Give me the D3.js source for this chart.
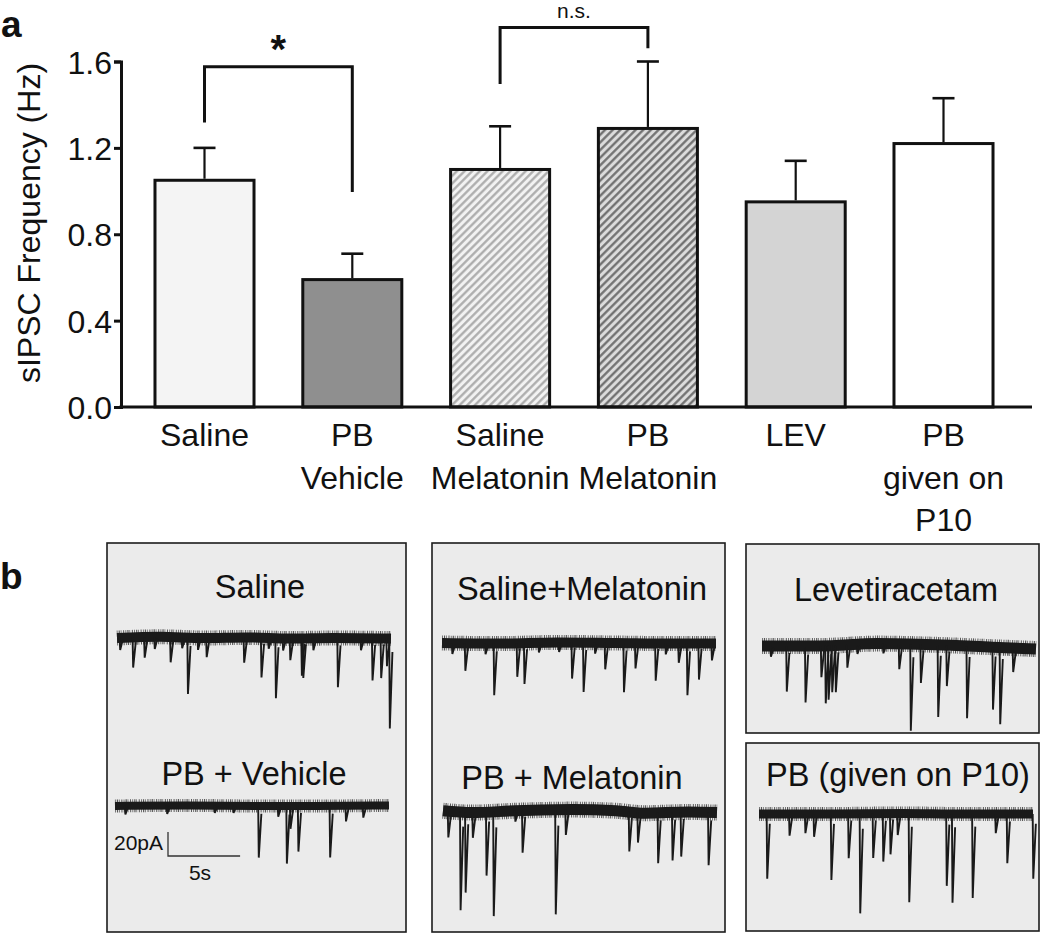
<!DOCTYPE html>
<html><head><meta charset="utf-8">
<script src="https://cdn.jsdelivr.net/npm/d3@7"></script>
<style>
body{margin:0;background:#fff}
svg{display:block}
text{font-family:"Liberation Sans",Arial,Helvetica,sans-serif;fill:#111}
</style>
</head><body>
<svg id="fig" width="1050" height="935"></svg>
<script>
// ---------------- data: panel a ----------------
const categories = ["Saline", "PB\nVehicle", "Saline\nMelatonin", "PB\nMelatonin", "LEV", "PB\ngiven on\nP10"];
const meanFreq = [1.05, 0.59, 1.10, 1.29, 0.95, 1.22];
const semFreq = [0.15, 0.12, 0.20, 0.31, 0.19, 0.21];
const yTicks = [0, 0.4, 0.8, 1.2, 1.6];
const yLabel = "sIPSC Frequency (Hz)";
const comparisons = [
  {a: 0, b: 1, label: "*", top: 1.576, legA: 1.317, legB: 0.996},
  {a: 2, b: 3, label: "n.s.", top: 1.757, legA: 1.496, legB: 1.661}
];

// ---------------- data: panel b (time s, amplitude pA) ----------------
const traceTitles = ["Saline", "PB + Vehicle", "Saline+Melatonin", "PB + Melatonin", "Levetiracetam", "PB (given on P10)"];
const salineEvents = [[0.2,10],[1.1,25],[1.9,17],[2.6,10],[3.7,21],[4.5,9],[4.9,47],[5.6,10],[6.2,16],[8.8,21],[10.0,33],[10.5,9],[11.0,50],[11.5,10],[12.0,18],[12.8,31],[12.9,33],[13.6,10],[15.3,41],[16.9,10],[17.7,35],[18.3,33],[18.7,23],[18.9,75]];
const pbVehicleEvents = [[0.7,7],[3.6,7],[6.9,6],[8.2,6],[9.95,43],[11.3,9],[11.9,48],[12.15,19],[12.7,38],[14.9,43],[16.0,13],[17.2,10]];
const salineMelEvents = [[0.7,9],[1.6,23],[3.0,9],[3.6,43],[5.2,28],[5.7,34],[6.7,8],[8.1,8],[9.0,30],[9.8,41],[10.6,9],[11.3,22],[12.6,41],[13.4,21],[14.8,31],[15.5,9],[16.4,16],[17.0,43],[17.8,30],[18.7,14]];
const pbMelEvents = [[0.35,22],[1.2,82],[1.55,67],[2.05,21],[3.0,53],[3.5,87],[5.0,9],[5.5,35],[7.8,87],[8.5,21],[12.9,33],[13.5,25],[14.9,42],[15.9,40],[16.5,37],[18.4,44]];
const levEvents = [[0.6,9],[1.7,38],[3.0,47],[4.1,26],[4.4,48],[4.6,45],[4.85,39],[5.1,39],[5.9,19],[6.6,8],[8.4,8],[9.5,21],[10.3,72],[11.0,32],[12.2,60],[12.8,34],[14.2,60],[16.0,52],[16.5,64],[17.4,20]];
const p10Events = [[0.55,54],[2.1,18],[3.2,16],[3.8,19],[5.0,55],[6.2,37],[7.0,83],[7.9,37],[8.6,40],[9.1,34],[9.6,18],[10.4,74],[13.0,60],[13.4,74],[14.8,70],[16.4,16],[17.2,41],[19.0,54]];
// slow baseline drift (pA, positive = downward)
const salineDrift = [[0,0],[3,-1],[6,0],[9,-0.5],[12,0.5],[15,0],[19,0.5]];
const pbVehicleDrift = [[0,0],[5,-0.5],[10,0],[14,0],[19,-0.5]];
const salineMelDrift = [[0,0],[4,0.5],[8,-0.5],[12,0],[16,0.5],[19,0.5]];
const pbMelDrift = [[0,-1],[2,0.5],[5,-1],[9,-2],[12,-1],[14,1],[17,0],[19,0.5]];
const levDrift = [[0,0],[4,0],[8,-2],[12,-1],[16,1],[19,2.5]];
const p10Drift = [[0,0],[5,0],[10,-0.5],[14,0],[19,0]];
const scaleBarTime = 5, scaleBarAmp = 20;

// ---------------- drawing ----------------
const svg = d3.select("#fig");
const font = '"Liberation Sans",Arial,Helvetica,sans-serif';

// panel labels
svg.append("text").attr("x", 1).attr("y", 37).attr("font-size", 37).attr("font-weight", "bold").text("a");
svg.append("text").attr("x", 0).attr("y", 589).attr("font-size", 37).attr("font-weight", "bold").text("b");

// scales
const y = d3.scaleLinear().domain([0, 1.6]).range([407, 61.5]);
const step = 147.8;
const x = d3.scaleBand().domain(categories)
  .range([204.5 - step / 2, 204.5 + 5.5 * step])
  .paddingInner(0.33).paddingOuter(0.165);
const axisX = 121;

// patterns
const defs = svg.append("defs");
function hatch(id, bg, fg) {
  const p = defs.append("pattern").attr("id", id).attr("patternUnits", "userSpaceOnUse")
    .attr("width", 5.4).attr("height", 5.4).attr("patternTransform", "rotate(45)");
  p.append("rect").attr("width", 5.4).attr("height", 5.4).attr("fill", bg);
  p.append("line").attr("x1", 1.3).attr("x2", 1.3).attr("y1", 0).attr("y2", 5.4)
    .attr("stroke", fg).attr("stroke-width", 2.2);
}
hatch("hatchLight", "#f2f2f2", "#a9a9a9");
hatch("hatchDark", "#dcdcdc", "#6b6b6b");
const barFill = ["#f4f4f4", "#8f8f8f", "url(#hatchLight)", "url(#hatchDark)", "#d4d4d4", "#ffffff"];

const gA = svg.append("g");

// bars
gA.selectAll("rect.bar").data(categories).join("rect").attr("class", "bar")
  .attr("x", d => x(d)).attr("width", x.bandwidth())
  .attr("y", (d, i) => y(meanFreq[i])).attr("height", (d, i) => y(0) - y(meanFreq[i]))
  .attr("fill", (d, i) => barFill[i]).attr("stroke", "#111").attr("stroke-width", 3);

// error bars
const eg = gA.selectAll("g.err").data(categories).join("g").attr("class", "err");
eg.append("line").attr("x1", d => x(d) + x.bandwidth() / 2).attr("x2", d => x(d) + x.bandwidth() / 2)
  .attr("y1", (d, i) => y(meanFreq[i]) - 1.5).attr("y2", (d, i) => y(meanFreq[i] + semFreq[i]))
  .attr("stroke", "#111").attr("stroke-width", 2.2);
eg.append("line").attr("x1", d => x(d) + x.bandwidth() / 2 - 11).attr("x2", d => x(d) + x.bandwidth() / 2 + 11)
  .attr("y1", (d, i) => y(meanFreq[i] + semFreq[i])).attr("y2", (d, i) => y(meanFreq[i] + semFreq[i]))
  .attr("stroke", "#111").attr("stroke-width", 2.6);

// y axis
const yAxis = d3.axisLeft(y).tickValues(yTicks).tickFormat(d3.format(".1f")).tickSize(7).tickPadding(2);
const ya = gA.append("g").attr("transform", `translate(${axisX},0)`).call(yAxis);
ya.select(".domain").attr("stroke", "#111").attr("stroke-width", 3);
ya.selectAll(".tick line").attr("stroke", "#111").attr("stroke-width", 3);
ya.selectAll(".tick text").attr("font-size", 32).attr("font-family", font).attr("fill", "#111").attr("dy", "0.36em");

// x axis
const xAxis = d3.axisBottom(x).tickSize(0).tickFormat("");
const xa = gA.append("g").attr("transform", `translate(0,${y(0)})`).call(xAxis);
xa.select(".domain").remove();
gA.append("line").attr("x1", axisX - 1.5).attr("x2", 1032).attr("y1", y(0)).attr("y2", y(0))
  .attr("stroke", "#111").attr("stroke-width", 3);
const lbl = gA.selectAll("text.cat").data(categories).join("text").attr("class", "cat")
  .attr("text-anchor", "middle").attr("font-size", 32);
lbl.each(function(d) {
  const t = d3.select(this);
  d.split("\n").forEach((line, k) => {
    t.append("tspan").attr("x", x(d) + x.bandwidth() / 2).attr("y", 446 + k * 42.5).text(line);
  });
});

// y label
gA.append("text").attr("transform", "translate(40,223) rotate(-90)").attr("text-anchor", "middle")
  .attr("font-size", 32).text(yLabel);

// comparisons
comparisons.forEach(c => {
  const xa0 = x(categories[c.a]) + x.bandwidth() / 2;
  const xb0 = x(categories[c.b]) + x.bandwidth() / 2;
  gA.append("path").attr("d", `M${xa0},${y(c.legA)}V${y(c.top)}H${xb0}V${y(c.legB)}`)
    .attr("fill", "none").attr("stroke", "#111").attr("stroke-width", 3);
  const big = c.label === "*";
  gA.append("text").attr("x", (xa0 + xb0) / 2).attr("y", big ? y(c.top) - 4 : y(c.top) - 10)
    .attr("text-anchor", "middle").attr("font-size", big ? 40 : 21).attr("font-weight", big ? "bold" : "normal")
    .text(c.label);
});

// ---------------- panel b ----------------
const panels = [
  {x: 107, y: 543, w: 299, h: 389},
  {x: 432, y: 543, w: 293, h: 389},
  {x: 746, y: 544, w: 293, h: 189},
  {x: 746, y: 743, w: 293, h: 188}
];
const gB = svg.append("g");
gB.selectAll("rect.panel").data(panels).join("rect").attr("class", "panel")
  .attr("x", d => d.x).attr("y", d => d.y).attr("width", d => d.w).attr("height", d => d.h)
  .attr("fill", "#ebebeb").attr("stroke", "#1c1c1c").attr("stroke-width", 1.6);

const pxPerSec = 14.42, pxPerPA = 1.2, dur = 19;
const traces = [
  {title: traceTitles[0], tx: 260, ty: 598, x0: 117, base: 638, ev: salineEvents, dr: salineDrift, bw: 10},
  {title: traceTitles[1], tx: 254, ty: 785, x0: 115, base: 806, ev: pbVehicleEvents, dr: pbVehicleDrift, bw: 8},
  {title: traceTitles[2], tx: 582, ty: 600, x0: 442, base: 643, ev: salineMelEvents, dr: salineMelDrift, bw: 10},
  {title: traceTitles[3], tx: 572, ty: 789, x0: 443, base: 812, ev: pbMelEvents, dr: pbMelDrift, bw: 11},
  {title: traceTitles[4], tx: 896, ty: 601, x0: 762, base: 646, ev: levEvents, dr: levDrift, bw: 11},
  {title: traceTitles[5], tx: 898, ty: 786, x0: 759, base: 814, ev: p10Events, dr: p10Drift, bw: 9}
];
const clip = defs.append("clipPath").attr("id", "panelsClip");
panels.forEach(p => clip.append("rect").attr("x", p.x).attr("y", p.y).attr("width", p.w).attr("height", p.h));

traces.forEach(tr => {
  gB.append("text").attr("x", tr.tx).attr("y", tr.ty).attr("text-anchor", "middle").attr("font-size", 32.5).text(tr.title);
  const tx = d3.scaleLinear().domain([0, dur]).range([tr.x0, tr.x0 + dur * pxPerSec]);
  const ay = d3.scaleLinear().domain([0, 100]).range([tr.base, tr.base + 100 * pxPerPA]);
  const drift = d3.scaleLinear().domain(tr.dr.map(d => d[0])).range(tr.dr.map(d => d[1]));
  const g = gB.append("g").attr("clip-path", "url(#panelsClip)");
  const line = d3.line().x(d => tx(d[0])).y(d => ay(d[1])).curve(d3.curveMonotoneX);
  // noise fuzz
  g.append("path").attr("d", line(tr.dr)).attr("fill", "none").attr("stroke", "#1a1a1a")
    .attr("stroke-width", tr.bw + 5).attr("stroke-dasharray", "0.8,1.1,1.2,0.9,0.7,1.7,1,1.3").attr("opacity", 0.7);
  g.append("path").attr("d", line(tr.dr)).attr("fill", "none").attr("stroke", "#1a1a1a").attr("stroke-width", tr.bw);
  const spike = d3.line().x(d => tx(d[0])).y(d => ay(d[1]));
  g.selectAll("path.spk").data(tr.ev).join("path").attr("class", "spk")
    .attr("d", e => {
      const off = drift(e[0]);
      return spike([[e[0] - 0.02, off], [e[0] + 0.02, off + e[1]], [e[0] + 0.2, off + e[1] * 0.15]]);
    })
    .attr("fill", "none").attr("stroke", "#1a1a1a").attr("stroke-width", 1.9);
});

// scale bar
const sbT = d3.scaleLinear().domain([0, scaleBarTime]).range([168, 168 + scaleBarTime * pxPerSec]);
const sbA = d3.scaleLinear().domain([0, scaleBarAmp]).range([856, 856 - scaleBarAmp * pxPerPA]);
gB.append("path").attr("d", `M${sbT(0)},${sbA(scaleBarAmp)}V${sbA(0)}H${sbT(scaleBarTime)}`)
  .attr("fill", "none").attr("stroke", "#333").attr("stroke-width", 1.3);
gB.append("text").attr("x", 163).attr("y", 850).attr("text-anchor", "end").attr("font-size", 21).text(scaleBarAmp + "pA");
gB.append("text").attr("x", 200).attr("y", 880).attr("text-anchor", "middle").attr("font-size", 21).text(scaleBarTime + "s");
</script>
</body></html>
